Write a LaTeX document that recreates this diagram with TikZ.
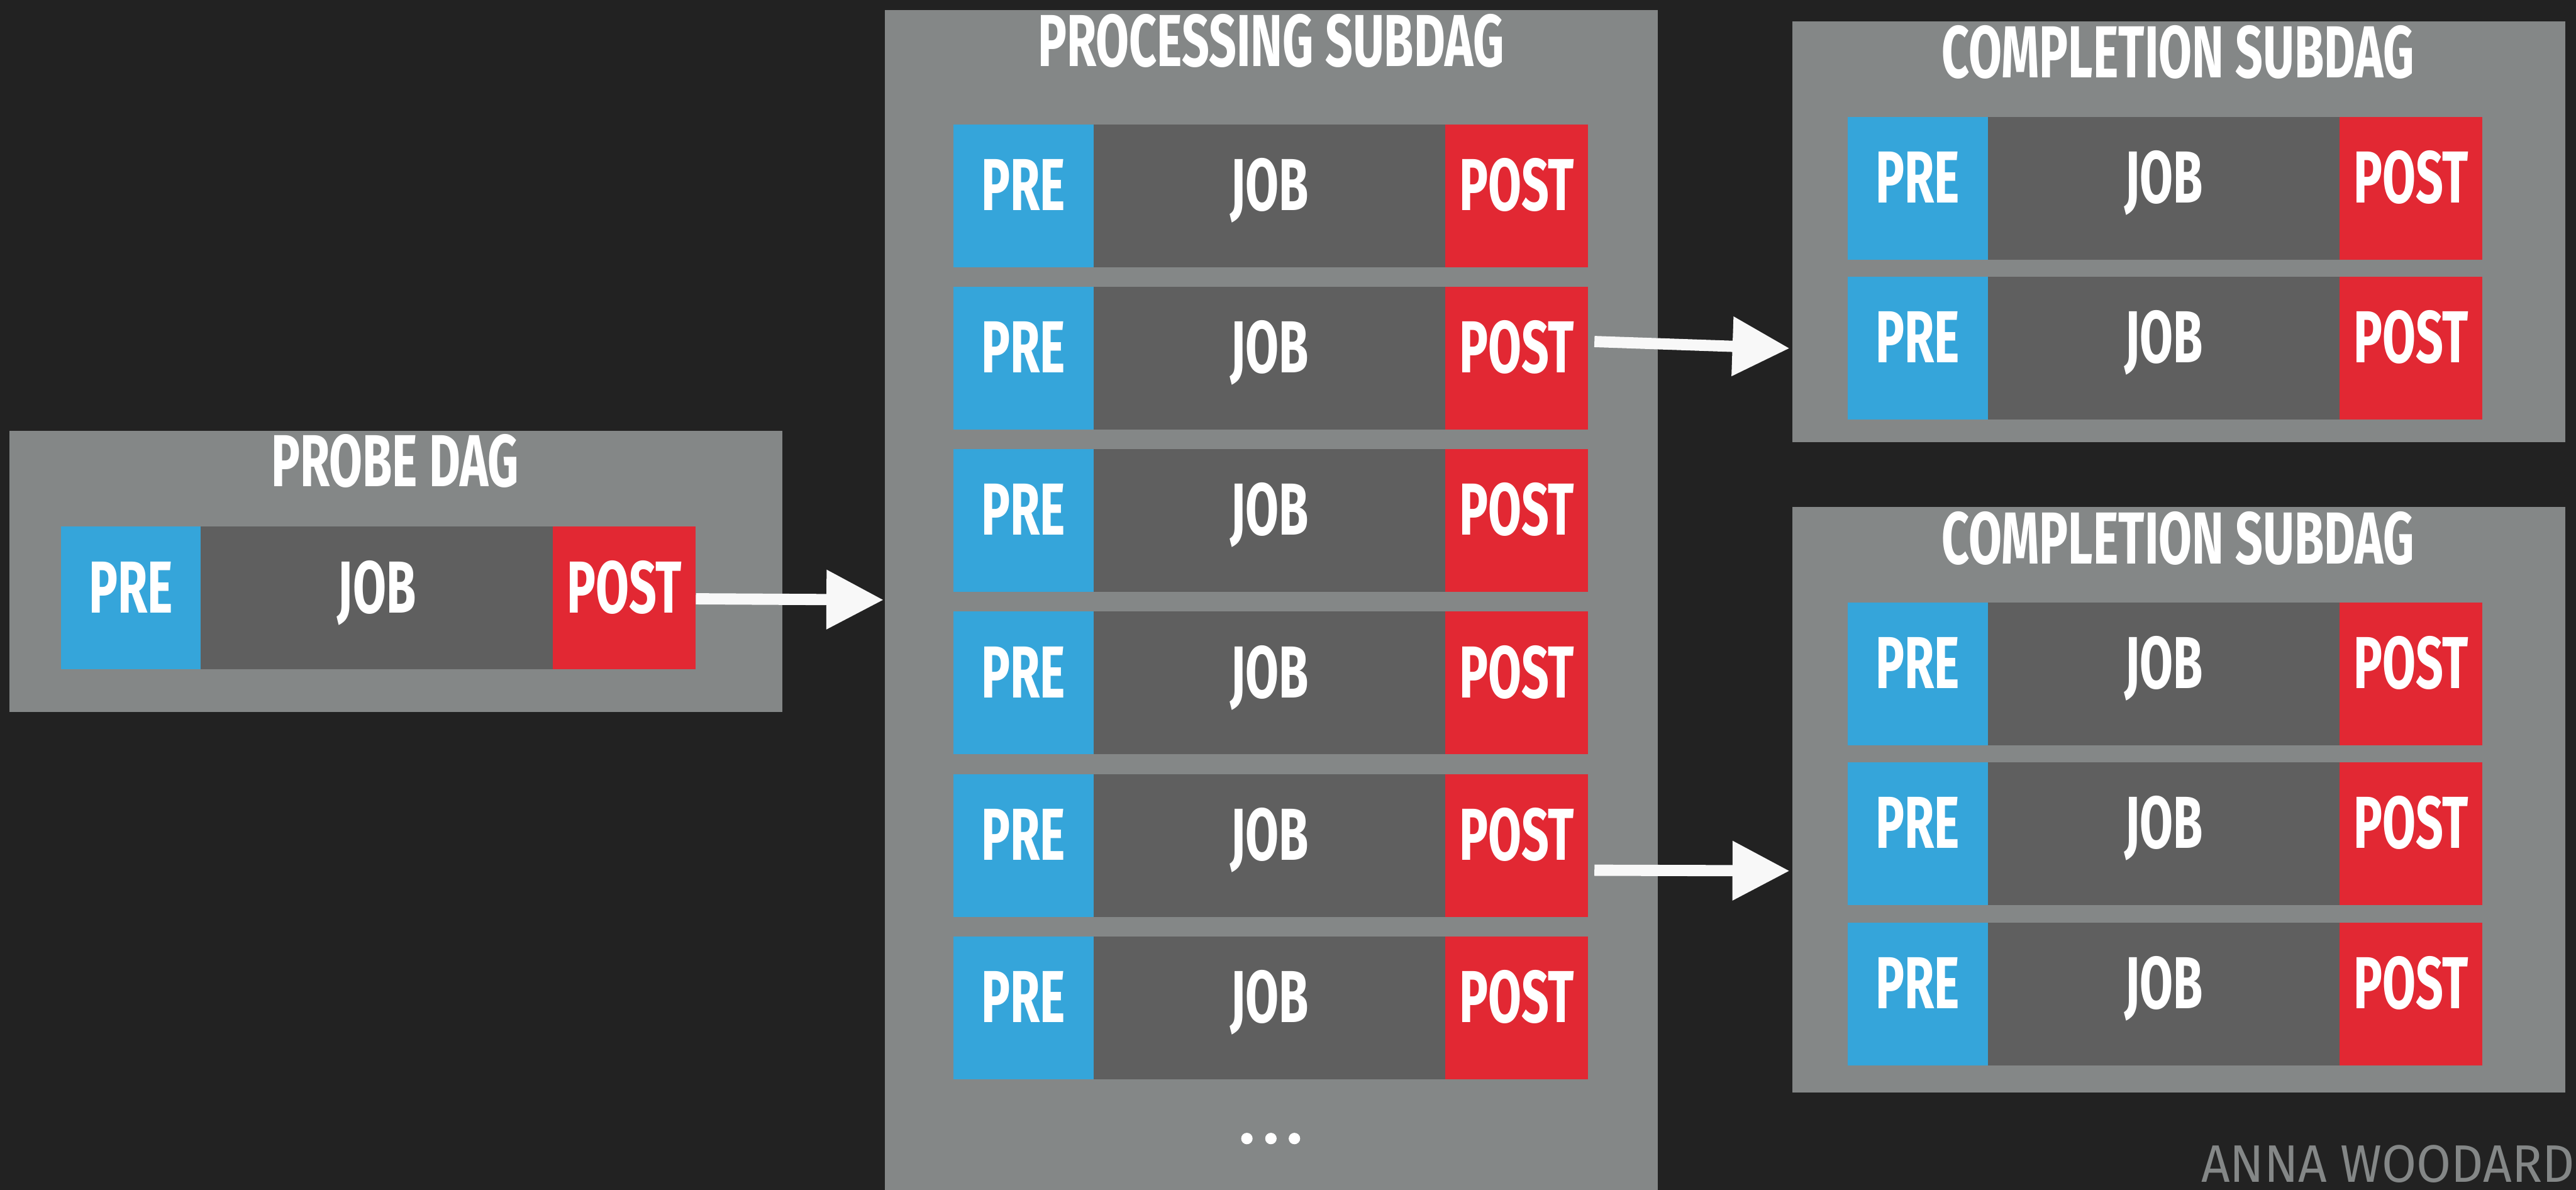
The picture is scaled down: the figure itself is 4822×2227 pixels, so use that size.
\documentclass[tikz,border=0pt]{standalone}
\usepackage{fontspec}
\usetikzlibrary{arrows.meta}
\newfontfamily\dinfont{Fira Sans}[FakeStretch=0.655]
\newfontfamily\sigfont{Fira Sans}[FakeStretch=0.95]
\definecolor{bgdark}{HTML}{222222}
\definecolor{boxgray}{HTML}{848787}
\definecolor{preblue}{HTML}{35A5DA}
\definecolor{jobgray}{HTML}{5F5F5F}
\definecolor{postred}{HTML}{E22833}
\definecolor{arrowwhite}{HTML}{F8F8F8}
\tikzset{
  container/.style={anchor=north west, fill=boxgray, inner sep=0pt, minimum width=14.46cm},
  boxtitle/.style={anchor=base, inner sep=0pt, text=white, font=\dinfont\bfseries\fontsize{39.2pt}{40pt}\selectfont},
  cell/.style={anchor=north west, inner sep=0pt, minimum height=2.67cm, text height=0.95cm, text depth=0.40cm, text=white, font=\dinfont\bfseries\fontsize{39.2pt}{40pt}\selectfont},
  precell/.style={cell, fill=preblue, minimum width=2.62cm},
  jobcell/.style={cell, fill=jobgray, minimum width=6.59cm},
  postcell/.style={cell, fill=postred, minimum width=2.67cm},
  bigarrow/.style={draw=arrowwhite, line width=0.21cm, -{Triangle[length=1.07cm,width=1.06cm]}}
}
\newcommand\jobrow[3]{%
  \node[precell] (#1-pre) at (#2,#3) {PRE};
  \node[jobcell] (#1-job) at (#2+262,#3) {JOB};
  \node[postcell] (#1-post) at (#2+921,#3) {POST};
}
\begin{document}
\begin{tikzpicture}[x=0.01cm, y=-0.01cm]
\useasboundingbox[fill=bgdark] (0,0) rectangle (4822,2227);
% containers
\node[container, minimum height=5.26cm] (probe) at (17,806) {};
\node[container, minimum height=22.09cm] (proc) at (1656,18) {};
\node[container, minimum height=7.87cm] (comp1) at (3354,39) {};
\node[container, minimum height=10.95cm] (comp2) at (3354,948) {};
% titles
\node[boxtitle] (probe-title) at (739.5,911) {PROBE DAG};
\node[boxtitle] (proc-title) at (2379,124) {PROCESSING SUBDAG};
\node[boxtitle] (comp1-title) at (4077,145) {COMPLETION SUBDAG};
\node[boxtitle] (comp2-title) at (4077,1055) {COMPLETION SUBDAG};
% rows
\jobrow{pr}{113}{985}
\jobrow{p1}{1784}{232}
\jobrow{p2}{1784}{536}
\jobrow{p3}{1784}{840}
\jobrow{p4}{1784}{1144}
\jobrow{p5}{1784}{1448}
\jobrow{p6}{1784}{1752}
\jobrow{ca1}{3458}{218}
\jobrow{ca2}{3458}{517}
\jobrow{cb1}{3458}{1127}
\jobrow{cb2}{3458}{1426}
\jobrow{cb3}{3458}{1726}
% ellipsis
\fill[white] (2334,2131) circle[radius=0.107cm];
\fill[white] (2379,2131) circle[radius=0.107cm];
\fill[white] (2423,2131) circle[radius=0.107cm];
% arrows
\draw[bigarrow] ([shift={(0,1.5)}]pr-post.east) -- ([shift={(-2,-1)}]proc.west);
\draw[bigarrow] ([shift={(11,-31)}]p2-post.east) -- ([shift={(-4,218.5)}]comp1.west);
\draw[bigarrow] ([shift={(11,46.5)}]p5-post.east) -- ([shift={(-4,133.5)}]comp2.west);
% signature
\node[anchor=base east, inner sep=0pt, text=boxgray, font=\sigfont\fontsize{28.1pt}{30pt}\selectfont] (sig) at (4820,2213) {ANNA WOODARD};
\end{tikzpicture}
\end{document}
